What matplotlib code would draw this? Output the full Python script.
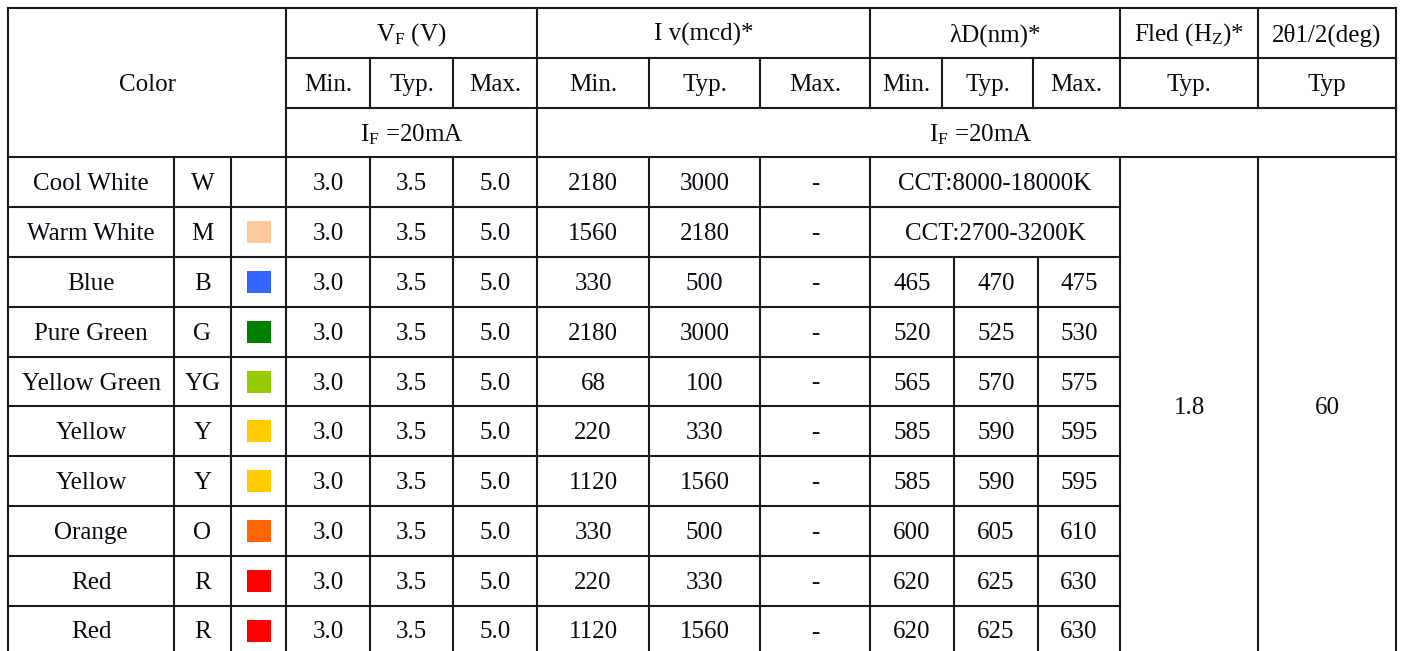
import matplotlib
matplotlib.use('Agg')
import matplotlib.pyplot as plt
from matplotlib.patches import Rectangle

plt.rcParams['font.family'] = ['Liberation Serif', 'DejaVu Serif']
plt.rcParams['mathtext.fontset'] = 'custom'
plt.rcParams['mathtext.rm'] = 'Liberation Serif'
plt.rcParams['mathtext.it'] = 'Liberation Serif:italic'

# table data
names = ['Cool White', 'Warm White', 'Blue', 'Pure Green', 'Yellow Green',
         'Yellow', 'Yellow', 'Orange', 'Red', 'Red']
codes = ['W', 'M', 'B', 'G', 'YG', 'Y', 'Y', 'O', 'R', 'R']
swatch = [None, '#FFCC99', '#3366FF', '#008000', '#99CC00',
          '#FFCC00', '#FFCC00', '#FF6600', '#FF0000', '#FF0000']
vf_min = ['3.0'] * 10
vf_typ = ['3.5'] * 10
vf_max = ['5.0'] * 10
iv_min = ['2180', '1560', '330', '2180', '68', '220', '1120', '330', '220', '1120']
iv_typ = ['3000', '2180', '500', '3000', '100', '330', '1560', '500', '330', '1560']
iv_max = ['-'] * 10
cct = ['CCT:8000-18000K', 'CCT:2700-3200K']
wl_min = ['465', '520', '565', '585', '585', '600', '620', '620']
wl_typ = ['470', '525', '570', '590', '590', '605', '625', '625']
wl_max = ['475', '530', '575', '595', '595', '610', '630', '630']
fled = '1.8'
angle = '60'

# layout (pixels)
x_left, x_code, x_sw, x_vf = 8, 174, 231, 286
vf_cols = [286, 370, 453, 537]
iv_cols = [537, 649, 760, 870]
wl_head = [870, 942, 1033, 1120]
wl_cols = [870, 954, 1038, 1120]
x_fled, x_ang, x_right = 1120, 1258, 1396
y0, rh = 8, 49.8
FS = 18
LC = '#1a1a1a'
LW = 1.5

def ry(k):
    return y0 + rh * k

fig = plt.figure(figsize=(14.05, 6.51), dpi=100)
ax = fig.add_axes([0, 0, 1, 1])
ax.set_xlim(0, 1405)
ax.set_ylim(651, 0)
ax.axis('off')

def hl(y, xa, xb):
    ax.plot([xa, xb], [y, y], color=LC, lw=LW, solid_capstyle='projecting')

def vl(x, ya, yb):
    ax.plot([x, x], [ya, yb], color=LC, lw=LW, solid_capstyle='projecting')

def txt(x, y, s, **kw):
    ax.text(x, y + 2, s, ha='center', va='center', fontsize=FS, color='#0a0a14', **kw)

ytop = ry(0)
ybot = ry(13)

# outer frame and main verticals
hl(ytop, x_left, x_right)
for x in [x_left, x_vf, iv_cols[0], x_right]:
    vl(x, ytop, ybot)
for x in [wl_cols[0], x_fled, x_ang]:
    vl(x, ytop, ry(2))
    vl(x, ry(3), ybot)

# header
hl(ry(1), x_vf, x_right)
hl(ry(2), x_vf, x_right)
hl(ry(3), x_left, x_right)
for x in vf_cols[1:3] + iv_cols[1:3] + wl_head[1:3]:
    vl(x, ry(1), ry(2))

txt((x_left + x_vf) / 2, (ry(0) + ry(3)) / 2, 'Color')
txt((vf_cols[0] + vf_cols[3]) / 2, (ry(0) + ry(1)) / 2, r'V$_{\mathrm{F}}$ (V)')
txt((iv_cols[0] + iv_cols[3]) / 2, (ry(0) + ry(1)) / 2, 'I v(mcd)*')
txt((wl_head[0] + wl_head[3]) / 2, (ry(0) + ry(1)) / 2, 'λD(nm)*')
txt((x_fled + x_ang) / 2, (ry(0) + ry(1)) / 2, r'Fled (H$_{\mathrm{Z}}$)*')
txt((x_ang + x_right) / 2, (ry(0) + ry(1)) / 2, '2θ1/2(deg)')

sub = ['Min.', 'Typ.', 'Max.']
for cols in [vf_cols, iv_cols, wl_head]:
    for i in range(3):
        txt((cols[i] + cols[i + 1]) / 2, (ry(1) + ry(2)) / 2, sub[i])
txt((x_fled + x_ang) / 2, (ry(1) + ry(2)) / 2, 'Typ.')
txt((x_ang + x_right) / 2, (ry(1) + ry(2)) / 2, 'Typ')

txt((vf_cols[0] + vf_cols[3]) / 2, (ry(2) + ry(3)) / 2, r'I$_{\mathrm{F}}$ =20mA')
txt((iv_cols[0] + x_right) / 2 + 14, (ry(2) + ry(3)) / 2, r'I$_{\mathrm{F}}$ =20mA')

# body
for x in [x_code, x_sw] + vf_cols[1:3] + iv_cols[1:3]:
    vl(x, ry(3), ybot)
for x in wl_cols[1:3]:
    vl(x, ry(5), ybot)

for i in range(len(names)):
    ya, yb = ry(3 + i), ry(4 + i)
    yc = (ya + yb) / 2
    hl(yb, x_left, x_fled)
    txt((x_left + x_code) / 2, yc, names[i])
    txt((x_code + x_sw) / 2, yc, codes[i])
    if swatch[i] is not None:
        ax.add_patch(Rectangle((259 - 12, yc - 11), 24, 22, facecolor=swatch[i], edgecolor='none'))
    for vals, cols in [([vf_min, vf_typ, vf_max], vf_cols), ([iv_min, iv_typ, iv_max], iv_cols)]:
        for j in range(3):
            txt((cols[j] + cols[j + 1]) / 2, yc, vals[j][i])
    if i < len(cct):
        txt((wl_cols[0] + wl_cols[3]) / 2, yc, cct[i])
    else:
        k = i - len(cct)
        for j, vals in enumerate([wl_min, wl_typ, wl_max]):
            txt((wl_cols[j] + wl_cols[j + 1]) / 2, yc, vals[k])

txt((x_fled + x_ang) / 2, (ry(3) + ybot) / 2, fled)
txt((x_ang + x_right) / 2, (ry(3) + ybot) / 2, angle)

fig.savefig('out.png', dpi=100, facecolor='white')
